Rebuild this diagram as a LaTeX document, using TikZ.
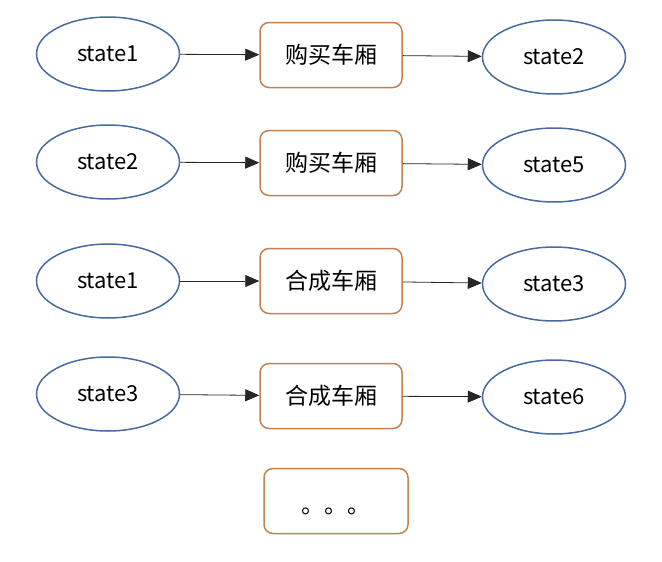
\documentclass[tikz,border=0pt]{standalone}
\usepackage{fontspec}
\setmainfont{Noto Sans CJK SC}
\usetikzlibrary{shapes.geometric,arrows.meta}
\definecolor{stblue}{RGB}{72,106,160}
\definecolor{actorange}{RGB}{196,130,82}
\begin{document}
\begin{tikzpicture}[x=1pt,y=-1pt,
  stnode/.style={ellipse,draw=stblue,line width=1.5pt,minimum width=143pt,minimum height=74pt,inner sep=0pt,font=\fontsize{22}{25}\selectfont},
  actbox/.style={rectangle,rounded corners=9pt,draw=actorange,line width=1.5pt,minimum width=142pt,minimum height=65pt,inner sep=0pt,font=\fontsize{23}{26}\selectfont},
  conn/.style={draw=black!85,line width=0.8pt,-{Triangle[length=14pt,width=12pt]}}]
\useasboundingbox (0,0) rectangle (662,562);
\node[stnode] (l1) at (108,54) {state1};
\node[actbox] (b1) at (331,55) {购买车厢};
\node[stnode] (r1) at (554,57) {state2};
\node[stnode] (l2) at (108,162) {state2};
\node[actbox] (b2) at (331,163) {购买车厢};
\node[stnode] (r2) at (554,165) {state5};
\node[stnode] (l3) at (108,281) {state1};
\node[actbox] (b3) at (331,281) {合成车厢};
\node[stnode] (r3) at (554,284) {state3};
\node[stnode] (l4) at (108,394) {state3};
\node[actbox] (b4) at (331,396) {合成车厢};
\node[stnode] (r4) at (554,397) {state6};
\node[actbox,minimum width=144pt] (b5) at (336,501) {\raisebox{-12pt}[0pt][0pt]{。。。}};
\foreach \i in {1,2,3,4}{
  \draw[conn] (l\i) -- (b\i);
  \draw[conn] (b\i) -- (r\i);
}
\end{tikzpicture}
\end{document}
